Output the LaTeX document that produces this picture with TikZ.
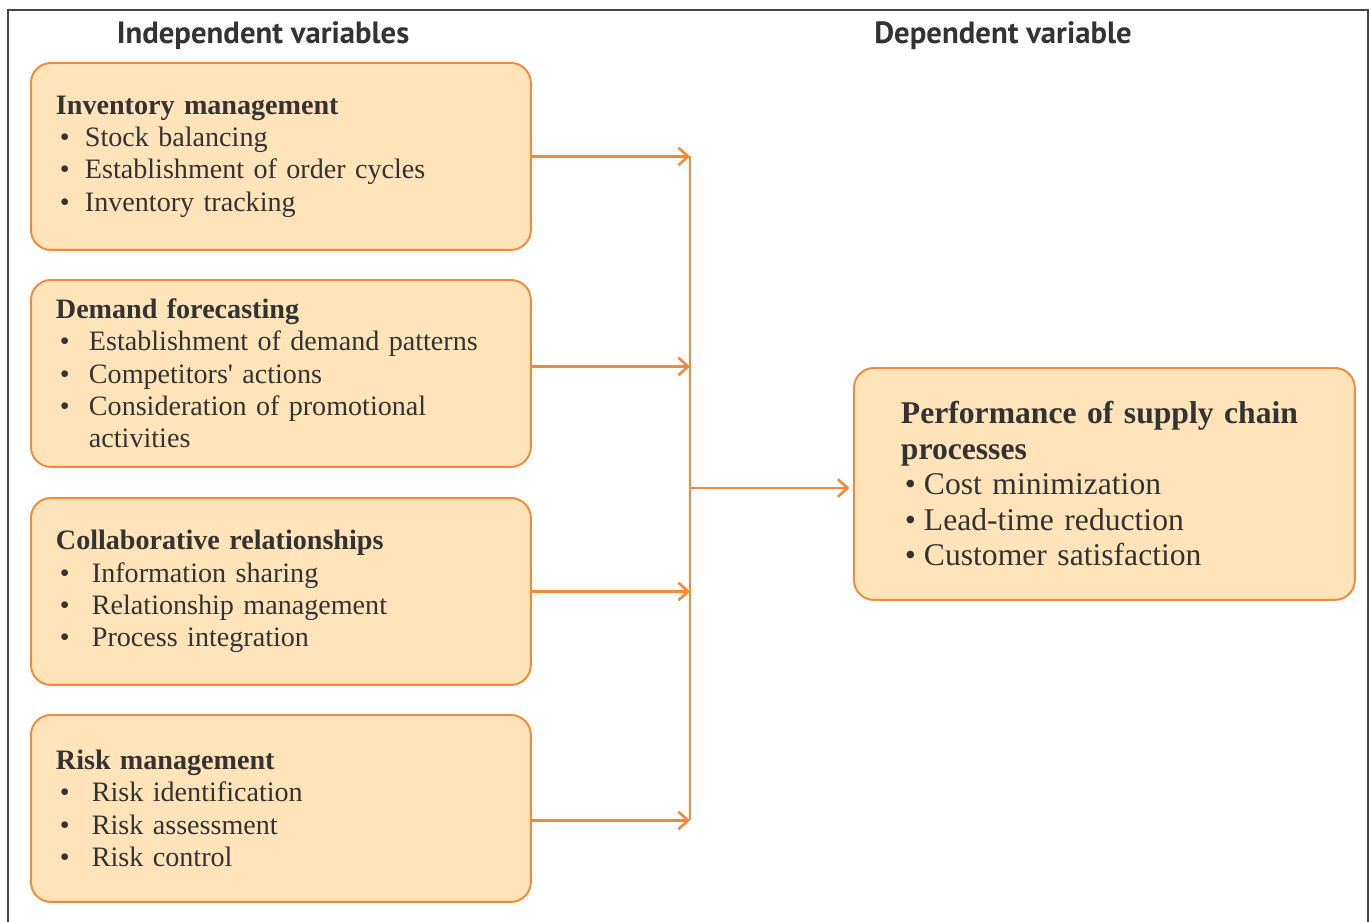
\documentclass[tikz,border=0pt]{standalone}
\usepackage{fontspec}
\setmainfont{Liberation Serif}
\newfontfamily\headfont{PT Sans}
\usetikzlibrary{arrows.meta}
\definecolor{boxfill}{HTML}{FFE3B9}
\definecolor{boxline}{HTML}{F4893A}
\definecolor{txtgray}{HTML}{333333}
\definecolor{framegray}{HTML}{444444}
\newcommand{\bul}[2]{\makebox[#1][l]{\hspace{0.08cm}\textbullet}#2}

\begin{document}
\begin{tikzpicture}[x=0.02cm,y=-0.02cm,
		varbox/.style={draw=boxline,fill=boxfill,line width=1.1pt,rounded corners=0.4cm,
			minimum width=10cm,minimum height=3.74cm,text width=9cm,inner xsep=0.5cm,
			align=left,text=txtgray,font=\fontsize{16}{18.4}\selectfont,anchor=north west},
		link/.style={draw=boxline,line width=1.5pt},
		>={Straight Barb[length=5.5pt,width=10pt]}]
			\useasboundingbox (0,0) rectangle (1369,921);
			\draw[framegray,line width=1.5pt] (8,940)--(8,10)--(1368,10)--(1368,940);
			\node[text=txtgray,font=\headfont\bfseries\fontsize{17.5}{20}\selectfont] (indep) at(263,36) {Independent variables};
			\node[text=txtgray,font=\headfont\bfseries\fontsize{17.5}{20}\selectfont] (dep) at(1003,36) {Dependent variable};
			\node[varbox] (inv) at(30,62) {{\bfseries Inventory management}\\
				\bul{0.58cm}{Stock balancing}\\
				\bul{0.58cm}{Establishment of order cycles}\\
				\bul{0.58cm}{Inventory tracking}};
			\node[varbox] (dem) at(30,279) {{\bfseries Demand forecasting}\\
				\bul{0.66cm}{Establishment of demand patterns}\\
				\bul{0.66cm}{Competitors\textquotesingle\ actions}\\
				\bul{0.66cm}{Consideration of promotional}\\
				\hspace*{0.66cm}activities};
			\node[varbox] (col) at(30,497) {{\bfseries Collaborative relationships}\\
				\bul{0.72cm}{Information sharing}\\
				\bul{0.72cm}{Relationship management}\\
				\bul{0.72cm}{Process integration}};
			\node[varbox] (risk) at(30,714) {{\bfseries Risk management}\\
				\bul{0.72cm}{Risk identification}\\
				\bul{0.72cm}{Risk assessment}\\
				\bul{0.72cm}{Risk control}};
			\node[varbox,minimum width=10.02cm,minimum height=4.64cm,text width=8.14cm,inner xsep=0.94cm,
				font=\fontsize{18}{20.2}\selectfont] (perf) at(853,367) {{\bfseries Performance of supply chain}\\
				{\bfseries processes}\\
				\bul{0.46cm}{Cost minimization}\\
				\bul{0.46cm}{Lead-time reduction}\\
				\bul{0.46cm}{Customer satisfaction}};
			\coordinate (bus) at(690,488);
			\draw[link,->] (inv.east)--(inv.east -| bus);
			\draw[link,->] ([yshift=0.14cm]dem.east)--([yshift=0.14cm]dem.east -| bus);
			\draw[link,->] (col.east)--(col.east -| bus);
			\draw[link,->] ([yshift=-0.24cm]risk.east)--([yshift=-0.24cm]risk.east -| bus);
			\draw[link] (inv.east -| bus)--([yshift=-0.24cm]risk.east -| bus);
			\draw[link,->] (bus)--([xshift=-2pt]bus -| perf.west);
		\end{tikzpicture}
\end{document}
